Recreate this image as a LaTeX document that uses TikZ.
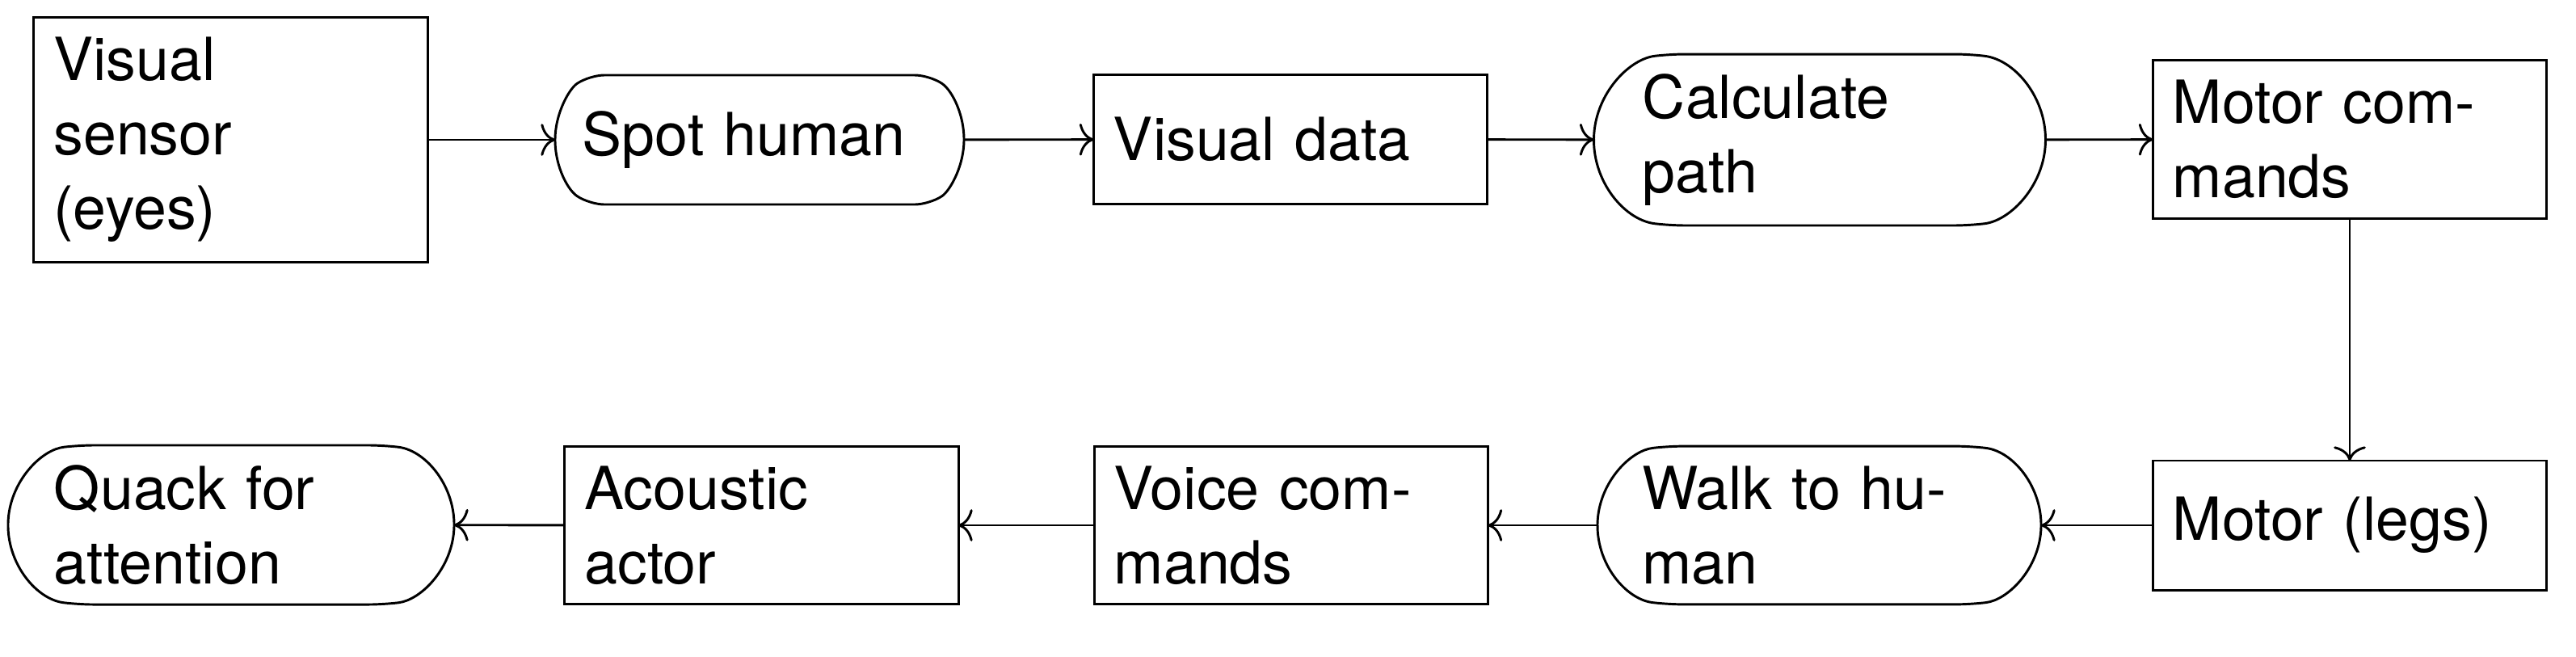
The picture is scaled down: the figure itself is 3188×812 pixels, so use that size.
\documentclass[tikz,border=0pt]{standalone}
\usepackage{fontspec}
\setmainfont{TeX Gyre Heros}
\usetikzlibrary{calc,arrows.meta}
\newcommand\pillpath[2]{%
  \draw[rounded corners=2.5pt] let \p1=(#1.north), \p2=(#1.center),
    \n1={(\y1-\y2)/sin(#2)}, \n2={\n1*(1-cos(#2))}, \n3={\y1-\y2} in
    (#1.north)
    -- ([shift={(-\n2,\n3)}]#1.east) arc[start angle=#2, end angle=-#2, radius=\n1]
    -- ([shift={(\n2,-\n3)}]#1.west) arc[start angle={180+#2}, end angle={180-#2}, radius=\n1]
    -- cycle;}
\begin{document}
\begin{tikzpicture}[x=0.13605pt,y=-0.13605pt,
  base/.style={font=\fontsize{10pt}{12.52pt}\selectfont, text width=59.6pt,
    align=left, inner sep=3.333pt, outer sep=0pt},
  box/.style={base, draw, rectangle, minimum width=66.26pt},
  pill/.style={base, rectangle},
  link/.style={-{To[length=2.4pt,width=5.4pt]}}]
\useasboundingbox (0,0) rectangle (3188,812);
\node[box] (sensor) at (285.5,173) {Visual\\sensor\\(eyes)};
\node[pill, minimum width=68.84pt, minimum height=21.77pt] (spot) at (940,173) {Spot human};
\node[box, minimum height=21.77pt] (vdata) at (1597,172.5) {Visual data};
\node[pill, minimum width=76.05pt] (calc) at (2252,173) {Calculate\\path};
\node[box] (mcmd) at (2908,172.5) {Motor com-\\mands};
\node[box, minimum height=21.77pt] (legs) at (2908,650) {Motor (legs)};
\node[pill, minimum width=74.69pt] (walk) at (2251.5,650) {Walk to hu-\\man};
\node[box] (voice) at (1598,650) {Voice com-\\mands};
\node[box] (acou) at (942.5,650) {Acoustic\\actor};
\node[pill, minimum width=75.1pt] (quack) at (286,649.5) {Quack for\\attention};
\pillpath{spot}{56}
\pillpath{calc}{83}
\pillpath{walk}{83}
\pillpath{quack}{83}
\draw[link] (sensor) -- (spot);
\draw[link] (spot) -- (vdata);
\draw[link] (vdata) -- (calc);
\draw[link] (calc) -- (mcmd);
\draw[link] (mcmd) -- (legs);
\draw[link] (legs) -- (walk);
\draw[link] (walk) -- (voice);
\draw[link] (voice) -- (acou);
\draw[link] (acou) -- (quack);
\end{tikzpicture}
\end{document}
